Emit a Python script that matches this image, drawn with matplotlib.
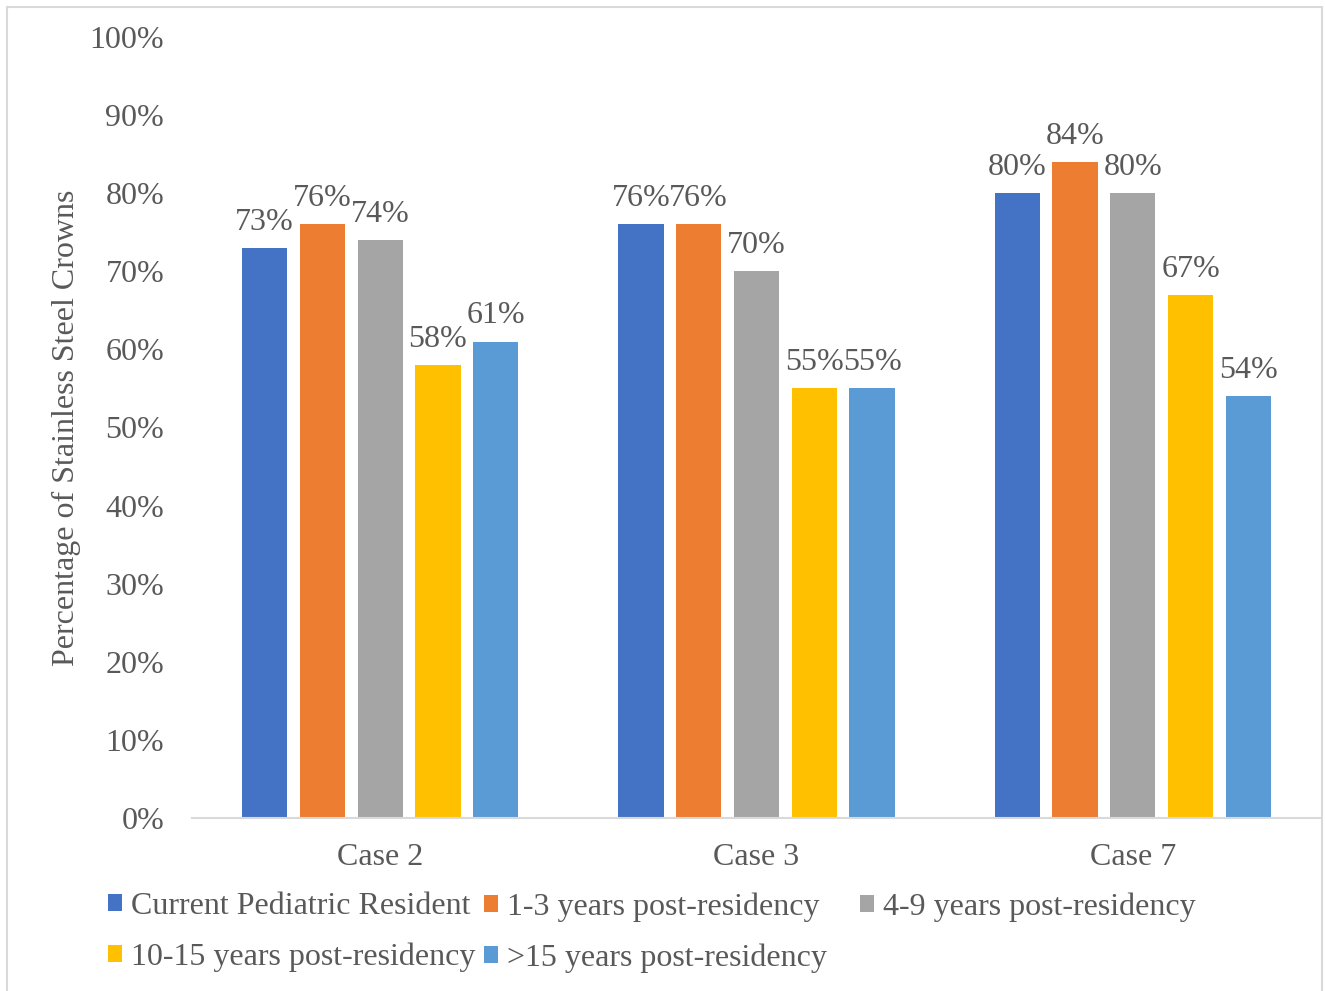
import numpy as np
import matplotlib.pyplot as plt
from matplotlib.patches import Rectangle

plt.rcParams['font.family'] = ['Liberation Serif', 'DejaVu Serif']

cases = ['Case 2', 'Case 3', 'Case 7']
groups = ['Current Pediatric Resident', '1-3 years post-residency',
          '4-9 years post-residency', '10-15 years post-residency',
          '>15 years post-residency']
current_resident = [73, 76, 80]
yrs_1_3 = [76, 76, 84]
yrs_4_9 = [74, 70, 80]
yrs_10_15 = [58, 55, 67]
yrs_15_plus = [61, 55, 54]
values = [current_resident, yrs_1_3, yrs_4_9, yrs_10_15, yrs_15_plus]
colors = ['#4472C4', '#ED7D31', '#A5A5A5', '#FFC000', '#5B9BD5']

txt = '#595959'
fs = 23
fig = plt.figure(figsize=(13.25, 9.91), dpi=100)
ax = fig.add_axes([192 / 1325, 1 - 818 / 991, 1129 / 1325, (818 - 37) / 991])

x = np.arange(len(cases))
step, width = 0.1535, 0.12
handles = []
for i, (name, vals, c) in enumerate(zip(groups, values, colors)):
    pos = x + (i - 2) * step
    b = ax.bar(pos, vals, width, color=c, label=name)
    handles.append(b)
    for px, v in zip(pos, vals):
        ax.annotate(f'{v}%', (px, v), xytext=(0, 8), textcoords='offset points',
                    ha='center', va='bottom', fontsize=fs, color=txt)

ax.set_xlim(-0.5, 2.5)
ax.set_ylim(0, 100)
ax.set_yticks(np.arange(0, 101, 10))
ax.set_yticklabels([f'{t}%' for t in range(0, 101, 10)])
ax.set_xticks(x)
ax.set_xticklabels(cases)
ax.tick_params(axis='y', length=0, pad=20, labelsize=fs, labelcolor=txt)
ax.tick_params(axis='x', length=0, pad=18, labelsize=fs, labelcolor=txt)
for s in ['top', 'right', 'left']:
    ax.spines[s].set_visible(False)
ax.spines['bottom'].set_color('#D9D9D9')
ax.spines['bottom'].set_linewidth(1.5)
ax.set_ylabel('Percentage of Stainless Steel Crowns', fontsize=fs, color=txt, labelpad=6)

# legend: three equal-width columns, filled row by row
columns = [[0, 3], [1, 4], [2]]
col_x = [108, 484, 860]
for idx, cx in zip(columns, col_x):
    leg = fig.legend([handles[k] for k in idx], [groups[k] for k in idx],
                     loc='upper left', bbox_to_anchor=(cx / 1325, 1 - 892 / 991),
                     frameon=False, fontsize=fs, handlelength=0.45, handleheight=0.45,
                     handletextpad=0.28, labelspacing=0.68,
                     borderaxespad=0, borderpad=0)
    for t in leg.get_texts():
        t.set_color(txt)

fig.patches.append(Rectangle((7 / 1325, -0.01), 1315 / 1325, 1 - 7 / 991 + 0.01,
                             transform=fig.transFigure, fill=False,
                             edgecolor='#D9D9D9', linewidth=1.5))

fig.savefig('out.png', dpi=100)
